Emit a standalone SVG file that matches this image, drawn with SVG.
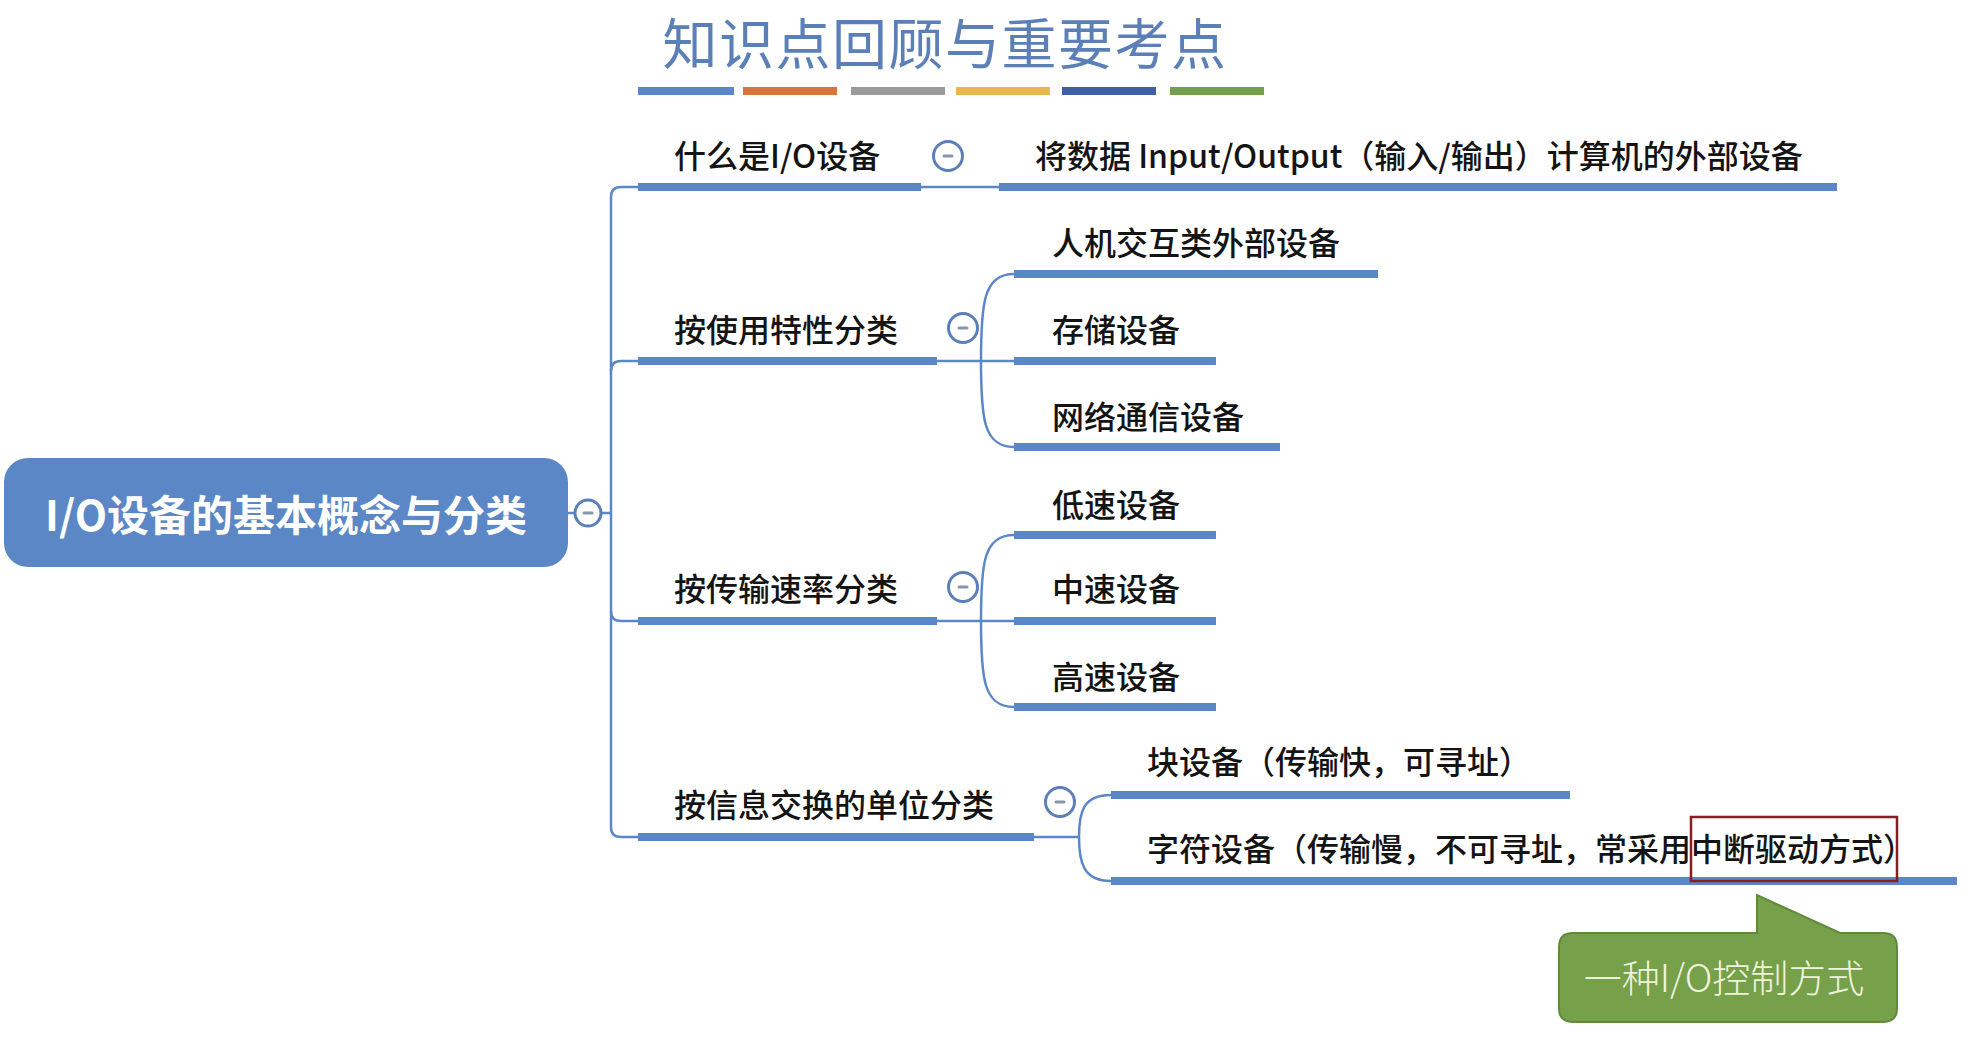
<svg xmlns="http://www.w3.org/2000/svg" width="1982" height="1043" viewBox="0 0 1982 1043">
<style>
.t{font-family:"Noto Sans CJK SC","Noto Sans",sans-serif;font-size:32px;fill:#141414;font-weight:500}
.ul{fill:#5b87c6}
.ln{fill:none;stroke:#5b87c6;stroke-width:2.5}
.tg circle{fill:#ffffff;stroke:#5b7fb8;stroke-width:3}
.tg line{stroke:#8796ab;stroke-width:3;stroke-linecap:round}
</style>
<rect width="1982" height="1043" fill="#ffffff"/>
<g id="title">
<text x="945" y="64" text-anchor="middle" style="font-family:'Noto Sans CJK SC','Noto Sans',sans-serif;font-size:55px;font-weight:400;letter-spacing:1.5px" fill="#5b80b8">知识点回顾与重要考点</text>
<rect x="638" y="87" width="96" height="8" fill="#5b87c6"/>
<rect x="743" y="87" width="94" height="8" fill="#d8743a"/>
<rect x="851" y="87" width="94" height="8" fill="#9a9a9a"/>
<rect x="956" y="87" width="94" height="8" fill="#e9b84a"/>
<rect x="1062" y="87" width="94" height="8" fill="#3e5fa6"/>
<rect x="1170" y="87" width="94" height="8" fill="#73a04a"/>
</g>
<g id="connectors">
<path class="ln" d="M568,513 H575 M601,513 H611"/>
<path class="ln" d="M638,187 H621 Q611,187 611,197 V827 Q611,837 621,837 H638"/>
<path class="ln" d="M611,371 Q611,361 621,361 H638"/>
<path class="ln" d="M611,611 Q611,621 621,621 H638"/>
<path class="ln" d="M921,187 H999"/>
<path class="ln" d="M937,361 H1014 M981,361 C981,305 983,274 1014,274 M981,361 C981,417 983,447 1014,447"/>
<path class="ln" d="M937,621 H1014 M981,621 C981,565 983,535 1014,535 M981,621 C981,677 983,707 1014,707"/>
<path class="ln" d="M1034,837 H1079 M1079,837 C1079,812 1083,795 1111,795 M1079,837 C1079,862 1083,881 1111,881"/>
</g>
<g id="root">
<rect x="4" y="458" width="564" height="109" rx="24" fill="#5b87c6"/>
<text x="286" y="531" text-anchor="middle" style="font-family:'Noto Sans CJK SC','Noto Sans',sans-serif;font-size:42px;font-weight:700" fill="#ffffff">I/O设备的基本概念与分类</text>
<g class="tg"><circle cx="588" cy="513" r="13"/><line x1="584" y1="513" x2="592" y2="513"/></g>
</g>
<g id="n-what">
<text class="t" x="674" y="168">什么是I/O设备</text>
<rect class="ul" x="638" y="183" width="283" height="8"/>
<g class="tg"><circle cx="948" cy="156" r="14.5"/><line x1="944" y1="156" x2="952" y2="156"/></g>
</g>
<g id="n-what-def">
<text class="t" x="1035" y="168">将数据 Input/Output（输入/输出）计算机的外部设备</text>
<rect class="ul" x="999" y="183" width="838" height="8"/>
</g>
<g id="n-use">
<text class="t" x="674" y="342">按使用特性分类</text>
<rect class="ul" x="638" y="357" width="299" height="8"/>
<g class="tg"><circle cx="963" cy="328" r="14.5"/><line x1="959" y1="328" x2="967" y2="328"/></g>
</g>
<g id="n-hci">
<text class="t" x="1052" y="255">人机交互类外部设备</text>
<rect class="ul" x="1014" y="270" width="364" height="8"/>
</g>
<g id="n-storage">
<text class="t" x="1052" y="342">存储设备</text>
<rect class="ul" x="1014" y="357" width="202" height="8"/>
</g>
<g id="n-net">
<text class="t" x="1052" y="429">网络通信设备</text>
<rect class="ul" x="1014" y="443" width="266" height="8"/>
</g>
<g id="n-rate">
<text class="t" x="674" y="601">按传输速率分类</text>
<rect class="ul" x="638" y="617" width="299" height="8"/>
<g class="tg"><circle cx="963" cy="587" r="14.5"/><line x1="959" y1="587" x2="967" y2="587"/></g>
</g>
<g id="n-low">
<text class="t" x="1052" y="517">低速设备</text>
<rect class="ul" x="1014" y="531" width="202" height="8"/>
</g>
<g id="n-mid">
<text class="t" x="1052" y="601">中速设备</text>
<rect class="ul" x="1014" y="617" width="202" height="8"/>
</g>
<g id="n-high">
<text class="t" x="1052" y="689">高速设备</text>
<rect class="ul" x="1014" y="703" width="202" height="8"/>
</g>
<g id="n-unit">
<text class="t" x="674" y="817">按信息交换的单位分类</text>
<rect class="ul" x="638" y="833" width="396" height="8"/>
<g class="tg"><circle cx="1060" cy="802" r="14.5"/><line x1="1056" y1="802" x2="1064" y2="802"/></g>
</g>
<g id="n-block">
<text class="t" x="1147" y="774">块设备（传输快，可寻址）</text>
<rect class="ul" x="1111" y="791" width="459" height="8"/>
</g>
<g id="n-char">
<text class="t" x="1147" y="861">字符设备（传输慢，不可寻址，常采用中断驱动方式）</text>
<rect class="ul" x="1111" y="877" width="846" height="8"/>
<rect x="1691" y="817" width="206" height="64" fill="none" stroke="#8b1c22" stroke-width="2.5"/>
</g>
<g id="callout">
<path d="M1573,933 H1757 V895 L1840,933 H1883 Q1897,933 1897,947 V1008 Q1897,1022 1883,1022 H1573 Q1559,1022 1559,1008 V947 Q1559,933 1573,933 Z" fill="#76a04a" stroke="#5f8a3c" stroke-width="2"/>
<text x="1724" y="992" text-anchor="middle" style="font-family:'Noto Sans CJK SC','Noto Sans',sans-serif;font-size:38px;font-weight:300" fill="#eef4dc">一种I/O控制方式</text>
</g>
</svg>
